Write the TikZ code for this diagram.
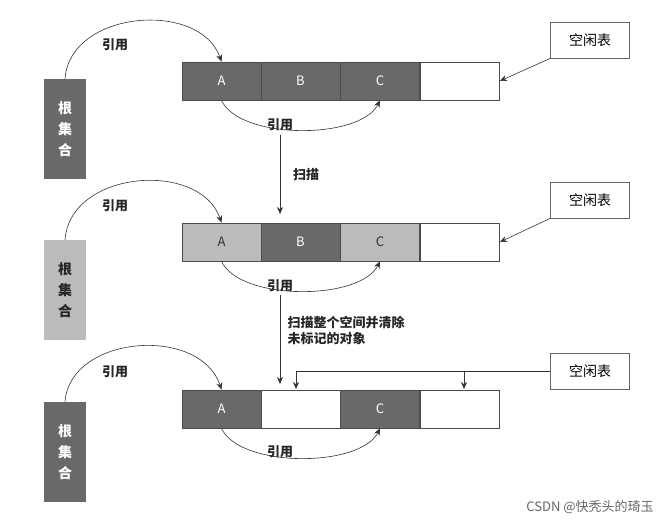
\documentclass[tikz,border=0pt]{standalone}
\usepackage{fontspec}
\setmainfont{Noto Sans CJK SC}
\usetikzlibrary{arrows.meta}
\definecolor{dk}{HTML}{696969}
\definecolor{lt}{HTML}{BBBBBB}
\newcommand{\fs}{\fontsize{13}{16}\selectfont}
\begin{document}
\begin{tikzpicture}[x=1pt,y=-1pt,
 cell/.style={draw=black!70,line width=0.8pt,minimum width=79pt,minimum height=38pt,inner sep=0pt,font=\fs},
 dcell/.style={cell,fill=dk,text=white},
 lcell/.style={cell,fill=lt,text=black!80},
 wcell/.style={cell,fill=white},
 root/.style={minimum width=42pt,minimum height=100pt,inner sep=0pt,align=center,font=\fontsize{14}{17}\selectfont\bfseries},
 free/.style={draw=black!60,line width=0.8pt,minimum width=79pt,minimum height=36pt,font=\fontsize{14}{16}\selectfont},
 arr/.style={-{Stealth[length=7pt,width=6pt]},line width=0.6pt,black!80},
 lab/.style={font=\fs\bfseries,text=black!85}]
\useasboundingbox (0,0) rectangle (668,524);
% row 1
\node[dcell] (a1) at (221.5,81) {A};
\node[dcell] (b1) at (300.5,81) {B};
\node[dcell] (c1) at (380,81) {C};
\node[wcell] (d1) at (460,81) {};
\node[root,fill=dk,text=white] (r1) at (65,129) {根\\[4pt]集\\[4pt]合};
\node[free] (f1) at (590,40) {空闲表};
\draw[arr] (r1.north) .. controls (70,10) and (200,0) .. (a1.north);
\node[lab] (l1a) at (115,45) {引用};
\draw[arr] (a1.south) .. controls (240,140) and (360,140) .. (c1.south);
\node[lab] (l1b) at (280,125) {引用};
\draw[arr] (f1.south west) -- (d1.east);
% scan
\coordinate (s1) at (280,135);
\coordinate (s1e) at (280,214);
\draw[arr] (s1) -- (s1e);
\node[lab] (ls1) at (306,175) {扫描};
% row 2
\node[lcell] (a2) at (221.5,242) {A};
\node[dcell] (b2) at (300.5,242) {B};
\node[lcell] (c2) at (380,242) {C};
\node[wcell] (d2) at (460,242) {};
\node[root,fill=lt,text=black!85] (r2) at (65,290) {根\\[4pt]集\\[4pt]合};
\node[free] (f2) at (590,200) {空闲表};
\draw[arr] (r2.north) .. controls (70,170) and (200,160) .. (a2.north);
\node[lab] (l2a) at (115,206) {引用};
\draw[arr] (a2.south) .. controls (240,301) and (360,301) .. (c2.south);
\node[lab] (l2b) at (280,286) {引用};
\draw[arr] (f2.south west) -- (d2.east);
% scan 2
\coordinate (s2) at (280,295);
\coordinate (s2e) at (280,384);
\draw[arr] (s2) -- (s2e);
\node[lab,align=left,anchor=west] (ls2) at (284,330) {扫描整个空间并清除\\未标记的对象};
% row 3
\node[dcell] (a3) at (221.5,409) {A};
\node[wcell] (b3) at (300.5,409) {};
\node[dcell] (c3) at (380,409) {C};
\node[wcell] (d3) at (460,409) {};
\node[root,fill=dk,text=white] (r3) at (65,452) {根\\[4pt]集\\[4pt]合};
\node[free] (f3) at (590,371) {空闲表};
\draw[arr] (r3.north) .. controls (70,335) and (200,325) .. (a3.north);
\node[lab] (l3a) at (115,372) {引用};
\draw[arr] (a3.south) .. controls (240,468) and (360,468) .. (c3.south);
\node[lab] (l3b) at (280,452) {引用};
\coordinate (j1) at (296,371);
\coordinate (j2) at (464,371);
\draw[line width=0.6pt,black!80] (f3.west) -- (j1);
\draw[arr] (j1) -- (296,389);
\draw[arr] (j2) -- (464,389);
\node[font=\fontsize{13}{15}\selectfont,text=black!60] (wm) at (590,507) {CSDN @快秃头的琦玉};
\end{tikzpicture}
\end{document}
